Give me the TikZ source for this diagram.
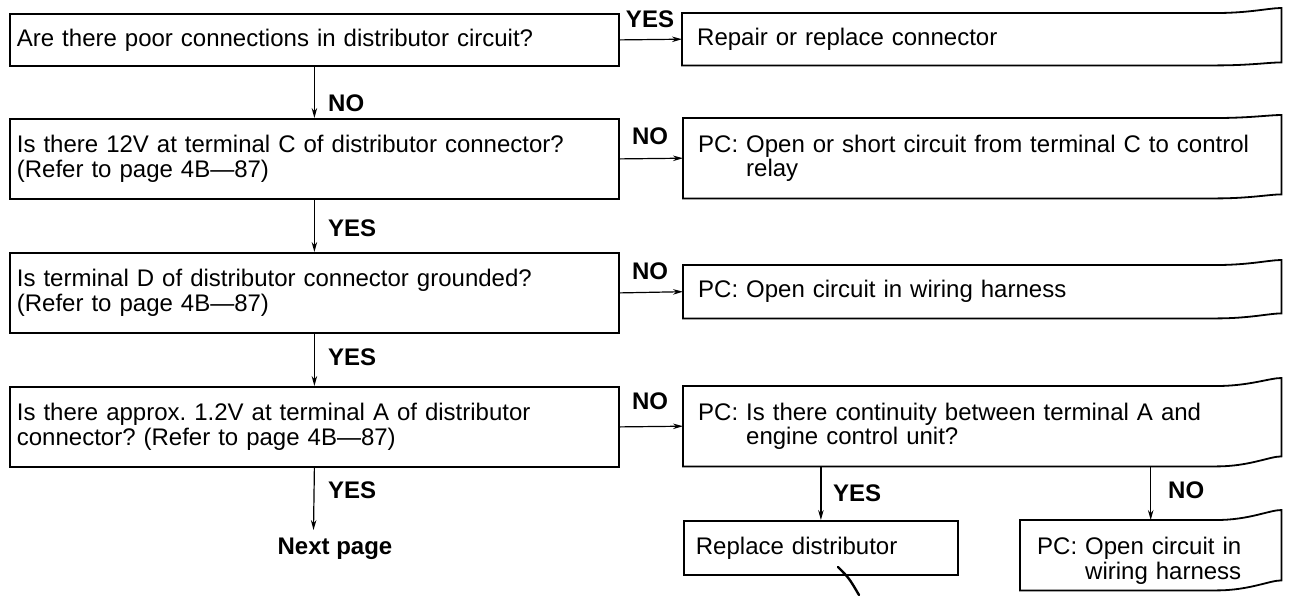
\documentclass[tikz,border=0pt]{standalone}
\usepackage{fontspec}
\setmainfont{Liberation Sans}
\usetikzlibrary{arrows.meta,calc}
\frenchspacing
\newcommand\topstrut[1]{\rule{0pt}{#1}}
\newcommand\pcgap{\phantom{PC: }}
\tikzset{
  txt/.style={font=\fontsize{24}{24.5}\selectfont},
  boxline/.style={line width=1.8pt, line join=miter},
  qbox/.style={txt, draw, boxline, anchor=north west, inner xsep=7pt, inner ysep=0pt,
    text width=595pt, minimum width=609pt, align=left},
  abox/.style={txt, anchor=north west, inner ysep=0pt, align=left},
  lab/.style={font=\fontsize{24}{24.5}\selectfont\bfseries, inner sep=0pt},
  arr/.style={line width=1.2pt, -{Stealth[length=10pt,width=5.5pt]}}
}
\newcommand\curlout[3]{%
  \draw[boxline] (#1.north west) -- ([xshift=-65pt]#1.north east)
    .. controls ([xshift=-32pt]#1.north east) and ([xshift=-12pt,yshift=#2]#1.north east) .. ([yshift=#2]#1.north east)
    -- ([yshift=#3]#1.south east)
    .. controls ([xshift=-12pt,yshift=#3]#1.south east) and ([xshift=-32pt]#1.south east) .. ([xshift=-65pt]#1.south east)
    -- (#1.south west) -- cycle;}
\begin{document}
\begin{tikzpicture}[x=1pt,y=-1pt]
\useasboundingbox (0,0) rectangle (1291,595);
% question boxes (left column)
\node[qbox, minimum height=52pt] (q1) at (9,13) {Are there poor connections in distributor circuit?};
\node[qbox, minimum height=80pt] (q2) at (9,118) {Is there 12V at terminal C of distributor connector?\\(Refer to page 4B—87)};
\node[qbox, minimum height=80pt] (q3) at (9,252) {Is terminal D of distributor connector grounded?\\(Refer to page 4B—87)};
\node[qbox, minimum height=80pt] (q4) at (9,386) {Is there approx. 1.2V at terminal A of distributor\\connector? (Refer to page 4B—87)};
% answer boxes (right column)
\node[abox, inner xsep=15pt, text width=569pt, minimum width=599pt, minimum height=52pt] (a1) at (682,13) {Repair or replace connector};
\node[abox, inner xsep=15pt, text width=568pt, minimum width=598pt, minimum height=80pt] (a2) at (683,118) {PC: Open or short circuit from terminal C to control\\\pcgap relay};
\node[abox, inner xsep=15pt, text width=568pt, minimum width=598pt, minimum height=53pt] (a3) at (683,265) {PC: Open circuit in wiring harness};
\node[abox, inner xsep=15pt, text width=568pt, minimum width=598pt, minimum height=80pt] (a4) at (683,386) {PC: Is there continuity between terminal A and\\\pcgap engine control unit?};
\node[abox, draw, boxline, inner xsep=12pt, text width=250pt, minimum width=274pt, minimum height=54pt] (rep) at (683,520) {Replace distributor};
\node[abox, inner xsep=17pt, text width=227pt, minimum width=261pt, minimum height=70pt] (wir) at (1020,520) {\topstrut{29pt}PC: Open circuit in\\\pcgap wiring harness};
\curlout{a1}{5pt}{3pt}
\curlout{a2}{3pt}{4pt}
\curlout{a3}{5pt}{5pt}
\curlout{a4}{8pt}{10pt}
\curlout{wir}{10pt}{10pt}
% labels
\node[lab] (l1) at (650,19) {YES};
\node[lab, anchor=west] (l2) at (328,103) {NO};
\node[lab] (l3) at (650,136) {NO};
\node[lab, anchor=west] (l4) at (328,228) {YES};
\node[lab] (l5) at (650,271) {NO};
\node[lab, anchor=west] (l6) at (328,357) {YES};
\node[lab] (l7) at (650,401) {NO};
\node[lab, anchor=west] (l8) at (328,490) {YES};
\node[lab] (nextp) at (335,549) {Next page};
\node[lab, anchor=west] (l9) at (833,493) {YES};
\node[lab, anchor=west] (l10) at (1168,490) {NO};
\coordinate (nx) at (313.5,530);
% connectors
\draw[arr] (q1.east) -- (a1.west);
\draw[arr] (q2.east) -- (a2.west);
\draw[arr] (q3.east) -- (a3.west);
\draw[arr] (q4.east) -- (a4.west);
\draw[arr] (q1.south) -- (q2.north);
\draw[arr] (q2.south) -- (q3.north);
\draw[arr] (q3.south) -- (q4.north);
\draw[arr] (q4.south) -- (nx);
\draw[arr] (rep.north |- a4.south) -- (rep.north);
\draw[arr] (wir.north |- a4.south) -- (wir.north);
% pen mark below the replace box
\draw[line width=2.4pt, line cap=round] (838,567) .. controls (849,578) .. (859,595);
\end{tikzpicture}
\end{document}
